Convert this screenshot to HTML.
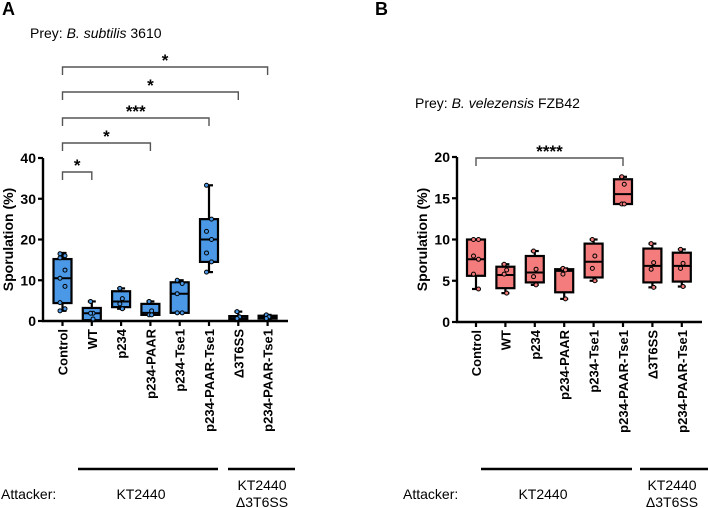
<!DOCTYPE html>
<html><head><meta charset="utf-8"><style>
body{margin:0;background:#fff}
svg{display:block;font-family:"Liberation Sans",sans-serif}
</style></head><body>
<svg id="c" width="708" height="508" viewBox="0 0 708 508"></svg>
<script>
const categories=["Control","WT","p234","p234-PAAR","p234-Tse1","p234-PAAR-Tse1","Δ3T6SS","p234-PAAR-Tse1"];
// [whiskerLow, q1, median, q3, whiskerHigh]
const boxesA=[[2.5,4.4,10.5,15.2,16.7],[0,0.2,1.9,3.2,4.8],[3,3.4,4.8,7.3,8],[1.5,1.5,2,4.2,4.8],[2,2,6.7,9.5,10],[12,14.5,20,25,33.3],[0,0.5,1,1.2,2.3],[0.4,0.6,1,1.3,1.5]];
const pointsA=[[16.5,16,15.5,12.5,10.5,8.5,4.5,3,2.5],[4.8,1.9,1.9,0.5],[8,5.5,4.2,3],[4.8,2.5,1.5,1.5],[10,9.2,6.7,2,2],[33.3,25,22,20,16.7,14.5,12],[2.3,1,0.6],[1.5,1,0.6]];
const boxesB=[[4,5.6,7.6,10,10],[3.5,4.1,5.7,6.7,7],[4.5,4.8,6,8,8.6],[2.8,3.6,6.2,6.4,6.5],[5,5.4,7.3,9.5,10],[14.3,14.3,15.5,17.3,17.6],[4.2,4.8,6.8,8.9,9.5],[4.3,4.9,6.8,8.4,8.8]];
const pointsB=[[10,10,8,7.6,5.8,4],[7,6.3,5.8,3.5],[8.6,6.4,5.5,4.5],[6.5,6.3,5.8,2.8],[10,8,6.5,5],[17.6,16.7,14.3,14.3],[9.5,7.2,6.4,4.2],[8.8,7.1,6.5,4.3]];
const ticksA=[0,10,20,30,40];
const ticksB=[0,5,10,15,20];
const sigA=[{to:7,label:"*"},{to:6,label:"*"},{to:5,label:"***"},{to:3,label:"*"},{to:1,label:"*"}];
const sigB=[{to:5,label:"****"}];

const S=document.getElementById('c');const NS="http://www.w3.org/2000/svg";
function el(t,a,txt){const e=document.createElementNS(NS,t);for(const k in a)e.setAttribute(k,a[k]);if(txt!=null)e.textContent=txt;S.appendChild(e);return e;}

function panel(o){
  const y=v=>o.y0-(v/o.ymax)*(o.y0-o.yTop);
  const x=i=>o.x0+i*o.dx;
  let e=el('text',{x:o.lx,y:15,'font-size':18,'font-weight':'bold'},o.letter);
  
  e=el('text',{x:o.tx,y:o.ty,'font-size':14});
  e.innerHTML='Prey: <tspan font-style="italic">'+o.sp+'</tspan> '+o.strain;
  
  e=el('line',{x1:o.ax,y1:o.yTop,x2:o.ax,y2:o.y0+1,stroke:'#000','stroke-width':2.4});
  
  e=el('line',{x1:o.ax-1,y1:o.y0,x2:o.axEnd,y2:o.y0,stroke:'#000','stroke-width':2.4});
  
  o.ticks.forEach(t=>{
    el('line',{x1:o.ax-5,y1:y(t),x2:o.ax,y2:y(t),stroke:'#000','stroke-width':2.2});
    e=el('text',{x:o.ax-7,y:y(t)+5,'font-size':14,'font-weight':'bold','text-anchor':'end'},t);
    
  });
  e=el('text',{x:0,y:0,'font-size':14,'font-weight':'bold','text-anchor':'middle',transform:`translate(${o.ytx},${(o.y0+o.yTop)/2}) rotate(-90)`},'Sporulation (%)');
  
  categories.forEach((c,i)=>{
    el('line',{x1:x(i),y1:o.y0,x2:x(i),y2:o.y0+5,stroke:'#000','stroke-width':2.2});
    e=el('text',{x:0,y:0,'font-size':13,'font-weight':'bold','text-anchor':'end',transform:`translate(${x(i)+5},${o.y0+8}) rotate(-90)`},c);
    
  });
  o.boxes.forEach((b,i)=>{
    const cx=x(i),w=9;
    const g=el('g',{});
    
    const add=(t,a)=>{const q=document.createElementNS(NS,t);for(const k in a)q.setAttribute(k,a[k]);g.appendChild(q);};
    add('line',{x1:cx,y1:y(b[0]),x2:cx,y2:y(b[4]),stroke:'#000','stroke-width':2.2});
    add('line',{x1:cx-4,y1:y(b[0]),x2:cx+4,y2:y(b[0]),stroke:'#000','stroke-width':2.2});
    add('line',{x1:cx-4,y1:y(b[4]),x2:cx+4,y2:y(b[4]),stroke:'#000','stroke-width':2.2});
    add('rect',{x:cx-w,y:y(b[3]),width:2*w,height:Math.max(1,y(b[1])-y(b[3])),fill:o.fill,stroke:'#000','stroke-width':2.2});
    add('line',{x1:cx-w,y1:y(b[2]),x2:cx+w,y2:y(b[2]),stroke:'#000','stroke-width':2});
    o.points[i].forEach((p,j)=>{
      const dx=(j%2?2.5:-2.5)*((o.points[i].length>4)?1:0.5);
      add('circle',{cx:cx+dx,cy:y(p),r:2,fill:o.fill,stroke:'#000','stroke-width':1});
    });
  });
  o.sig.forEach((s,k)=>{
    const by=o.sigY[k];
    e=el('path',{d:`M${x(0)},${by+8}V${by}H${x(s.to)}V${by+8}`,fill:'none',stroke:'#555','stroke-width':1.4});
    
    e=el('text',{x:(x(0)+x(s.to))/2,y:by-1,'font-size':17,'font-weight':'bold','text-anchor':'middle'},s.label);
    
  });
  e=el('line',{x1:o.l1[0],y1:469,x2:o.l1[1],y2:469,stroke:'#000','stroke-width':2.5});
  
  e=el('line',{x1:o.l2[0],y1:469,x2:o.l2[1],y2:469,stroke:'#000','stroke-width':2.5});
  
  e=el('text',{x:o.attX,y:499,'font-size':14},'Attacker:');
  
  e=el('text',{x:o.k1,y:499,'font-size':14,'text-anchor':'middle'},'KT2440');
  
  e=el('text',{x:o.k2,y:490,'font-size':14,'text-anchor':'middle'},'KT2440');
  
  e=el('text',{x:o.k2,y:507,'font-size':14,'text-anchor':'middle'},'Δ3T6SS');
  
}
panel({letter:'A',lx:2,tx:30,ty:38,sp:'B. subtilis',strain:'3610',ax:43,axEnd:288,x0:62.5,dx:29.3,y0:321,yTop:158,ymax:40,
  ticks:ticksA,ytx:13,boxes:boxesA,points:pointsA,fill:'#4a98e6',sig:sigA,sigY:[67,92,118,143,172],
  l1:[78,218],l2:[228,295],attX:1,k1:141,k2:262});
panel({letter:'B',lx:375,tx:415,ty:108,sp:'B. velezensis',strain:'FZB42',ax:457,axEnd:702,x0:476,dx:29.4,y0:322,yTop:157,ymax:20,
  ticks:ticksB,ytx:427,boxes:boxesB,points:pointsB,fill:'#f47c7c',sig:sigB,sigY:[158],
  l1:[481,632],l2:[640,708],attX:403,k1:543,k2:672});
</script>
</body></html>
